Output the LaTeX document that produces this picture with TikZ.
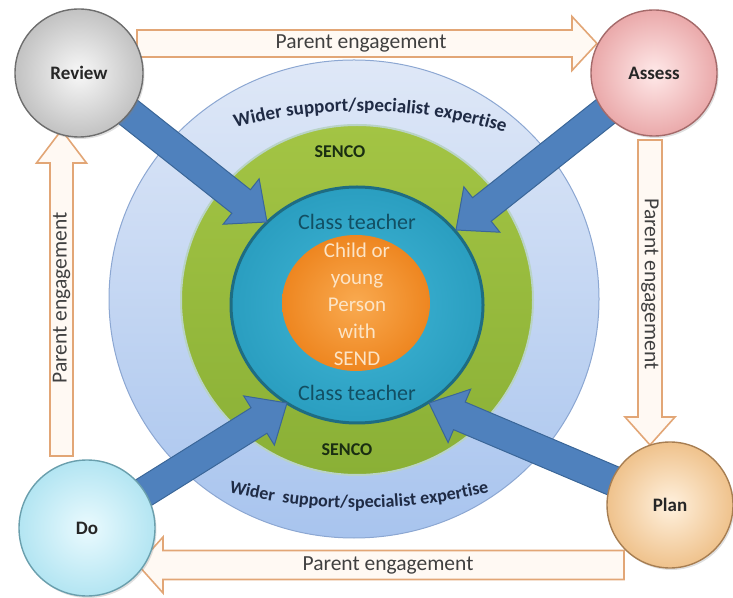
\documentclass[tikz,border=0pt]{standalone}
\usepackage{fontspec}
\setmainfont{Carlito}
\usetikzlibrary{calc,decorations.text,shapes.geometric,shadows}
\definecolor{ringTop}{HTML}{DFE8F7}
\definecolor{ringBot}{HTML}{A8C4EE}
\definecolor{ringEdge}{HTML}{8CA7D2}
\definecolor{grnTop}{HTML}{A3C444}
\definecolor{grnBot}{HTML}{8AB036}
\definecolor{grnEdge}{HTML}{B9D3C6}
\definecolor{tealIn}{HTML}{41B7D7}
\definecolor{tealOut}{HTML}{2A9EC0}
\definecolor{tealEdge}{HTML}{1E6C82}
\definecolor{orIn}{HTML}{F9AA50}
\definecolor{orOut}{HTML}{EE8620}
\definecolor{blueFill}{HTML}{4F81BD}
\definecolor{blueEdge}{HTML}{3A6698}
\definecolor{peEdge}{HTML}{E2A676}
\definecolor{peFill}{HTML}{FFF9F3}
\definecolor{peText}{HTML}{404040}
\definecolor{navyTxt}{HTML}{1F2B45}
\definecolor{tealTxt}{HTML}{124F63}
\definecolor{childTxt}{HTML}{FCE4C6}
\definecolor{sencoTxt}{HTML}{1A2E12}
\definecolor{revIn}{HTML}{F8F8F8}
\definecolor{revOut}{HTML}{C2C2C2}
\definecolor{revEdge}{HTML}{6E6E6E}
\definecolor{assIn}{HTML}{FFE9E9}
\definecolor{assOut}{HTML}{EAA9AA}
\definecolor{assEdge}{HTML}{A46A6A}
\definecolor{doIn}{HTML}{EAFAFE}
\definecolor{doOut}{HTML}{B3E5F2}
\definecolor{doEdge}{HTML}{6A9FAD}
\definecolor{plIn}{HTML}{FFF1DE}
\definecolor{plOut}{HTML}{EFC28C}
\definecolor{plEdge}{HTML}{A77E52}
\newcommand{\blockarrow}[6]{%
  \coordinate (hb) at ($(#2)!#5!(#1)$);
  \filldraw[#6] ($(#1)!#3!90:(#2)$) -- ($(hb)!#3!90:(#2)$) -- ($(hb)!#4!90:(#2)$) -- (#2)
    -- ($(hb)!#4!-90:(#2)$) -- ($(hb)!#3!-90:(#2)$) -- ($(#1)!#3!-90:(#2)$) -- cycle;}
\tikzset{
  ring/.style={ellipse, inner sep=0pt},
  bluearrow/.style={fill=blueFill, draw=blueEdge, line width=1pt, line join=miter},
  pearrow/.style={fill=peFill, draw=peEdge, line width=1.6pt, line join=miter},
  petext/.style={font=\fontsize{21.5}{21.5}\selectfont, text=peText, inner sep=0pt},
  stage/.style={circle, inner sep=0pt, font=\bfseries\fontsize{19}{19}\selectfont, text=black!85,
     line width=1.4pt, drop shadow={opacity=0.25, shadow xshift=1.5pt, shadow yshift=-2pt}},
  cteach/.style={font=\fontsize{22}{22}\selectfont, text=tealTxt, inner sep=0pt},
  sencolbl/.style={font=\bfseries\fontsize{18}{18}\selectfont, text=sencoTxt, inner sep=0pt},
  childlbl/.style={font=\fontsize{21}{27}\selectfont, text=childTxt, align=center, inner sep=0pt}
}
\begin{document}
\begin{tikzpicture}[x=1pt,y=1pt]
\useasboundingbox (0,0) rectangle (733,597);
% concentric rings
\node[ring, minimum width=490pt, minimum height=478pt, top color=ringTop, bottom color=ringBot,
      draw=ringEdge, line width=1pt] (wider) at (354,298) {};
\node[ring, minimum width=352pt, minimum height=350pt, top color=grnTop, bottom color=grnBot,
      draw=grnEdge, line width=2pt] (senco) at (357,297) {};
\node[ring, minimum width=252pt, minimum height=236pt, inner color=tealIn, outer color=tealOut,
      draw=tealEdge, line width=3pt] (teacher) at (357,292) {};
\node[ring, minimum width=148pt, minimum height=136pt, inner color=orIn, outer color=orOut] (child) at (356,294) {};
% parent engagement arrows
\coordinate (pe1s) at (137,553.5); \coordinate (pe1t) at (597,553.5);
\coordinate (pe2s) at (650,457);   \coordinate (pe2t) at (650,152);
\coordinate (pe3s) at (624,32);    \coordinate (pe3t) at (138,32);
\coordinate (pe4s) at (61.5,141);  \coordinate (pe4t) at (61.5,467);
\blockarrow{pe1s}{pe1t}{13.5pt}{27pt}{25pt}{pearrow}
\blockarrow{pe2s}{pe2t}{12pt}{25pt}{28pt}{pearrow}
\blockarrow{pe3s}{pe3t}{14.5pt}{28pt}{25pt}{pearrow}
\blockarrow{pe4s}{pe4t}{11.5pt}{25pt}{33pt}{pearrow}
\node[petext] (pet1) at (361,553.5) {Parent engagement};
\node[petext, rotate=-90] (pet2) at (650,313) {Parent engagement};
\node[petext] (pet3) at (388,32) {Parent engagement};
\node[petext, rotate=90] (pet4) at (61.5,299) {Parent engagement};
% stage positions
\coordinate (revc) at (79,524);
\coordinate (assc) at (654,524);
\coordinate (doc) at (87,69);
\coordinate (plc) at (670,92);
% blue arrows
\coordinate (rtip) at (267,375);
\coordinate (atip) at (456,367);
\coordinate (dtip) at (287,194);
\coordinate (ptip) at (429,194);
\blockarrow{revc}{rtip}{15pt}{29pt}{33pt}{bluearrow}
\blockarrow{assc}{atip}{15pt}{29pt}{33pt}{bluearrow}
\blockarrow{doc}{dtip}{15pt}{29pt}{33pt}{bluearrow}
\blockarrow{plc}{ptip}{15pt}{29pt}{33pt}{bluearrow}
% ring texts
\path[decorate, decoration={text along path, text align=center, text color=navyTxt,
   text={|\bfseries\fontsize{19}{19}\selectfont|Wider support/specialist expertise}}]
   (362,6) ++(111:480pt) arc[start angle=111, end angle=67, radius=480pt];
\path[decorate, decoration={text along path, text align=center, text color=navyTxt,
   text={|\bfseries\fontsize{18}{18}\selectfont|Wider{\ }{\ }support/specialist expertise}}]
   (359,633) ++(254:544pt) arc[start angle=254, end angle=286, radius=544pt];
\node[sencolbl] (senco1) at (340,445) {SENCO};
\node[sencolbl] (senco2) at (347,147) {SENCO};
\node[cteach] (ct1) at (357,375) {Class teacher};
\node[cteach] (ct2) at (357,204) {Class teacher};
\node[childlbl] (childtxt) at (357,293) {Child or\\young\\Person\\with\\SEND};
% stage circles
\node[stage, minimum size=128pt, inner color=revIn, outer color=revOut, draw=revEdge] (review) at (revc) {Review};
\node[stage, minimum size=126pt, inner color=assIn, outer color=assOut, draw=assEdge] (assess) at (assc) {Assess};
\node[stage, minimum size=136pt, inner color=doIn, outer color=doOut, draw=doEdge] (do) at (doc) {Do};
\node[stage, minimum size=126pt, inner color=plIn, outer color=plOut, draw=plEdge] (plan) at (plc) {Plan};
\end{tikzpicture}
\end{document}
